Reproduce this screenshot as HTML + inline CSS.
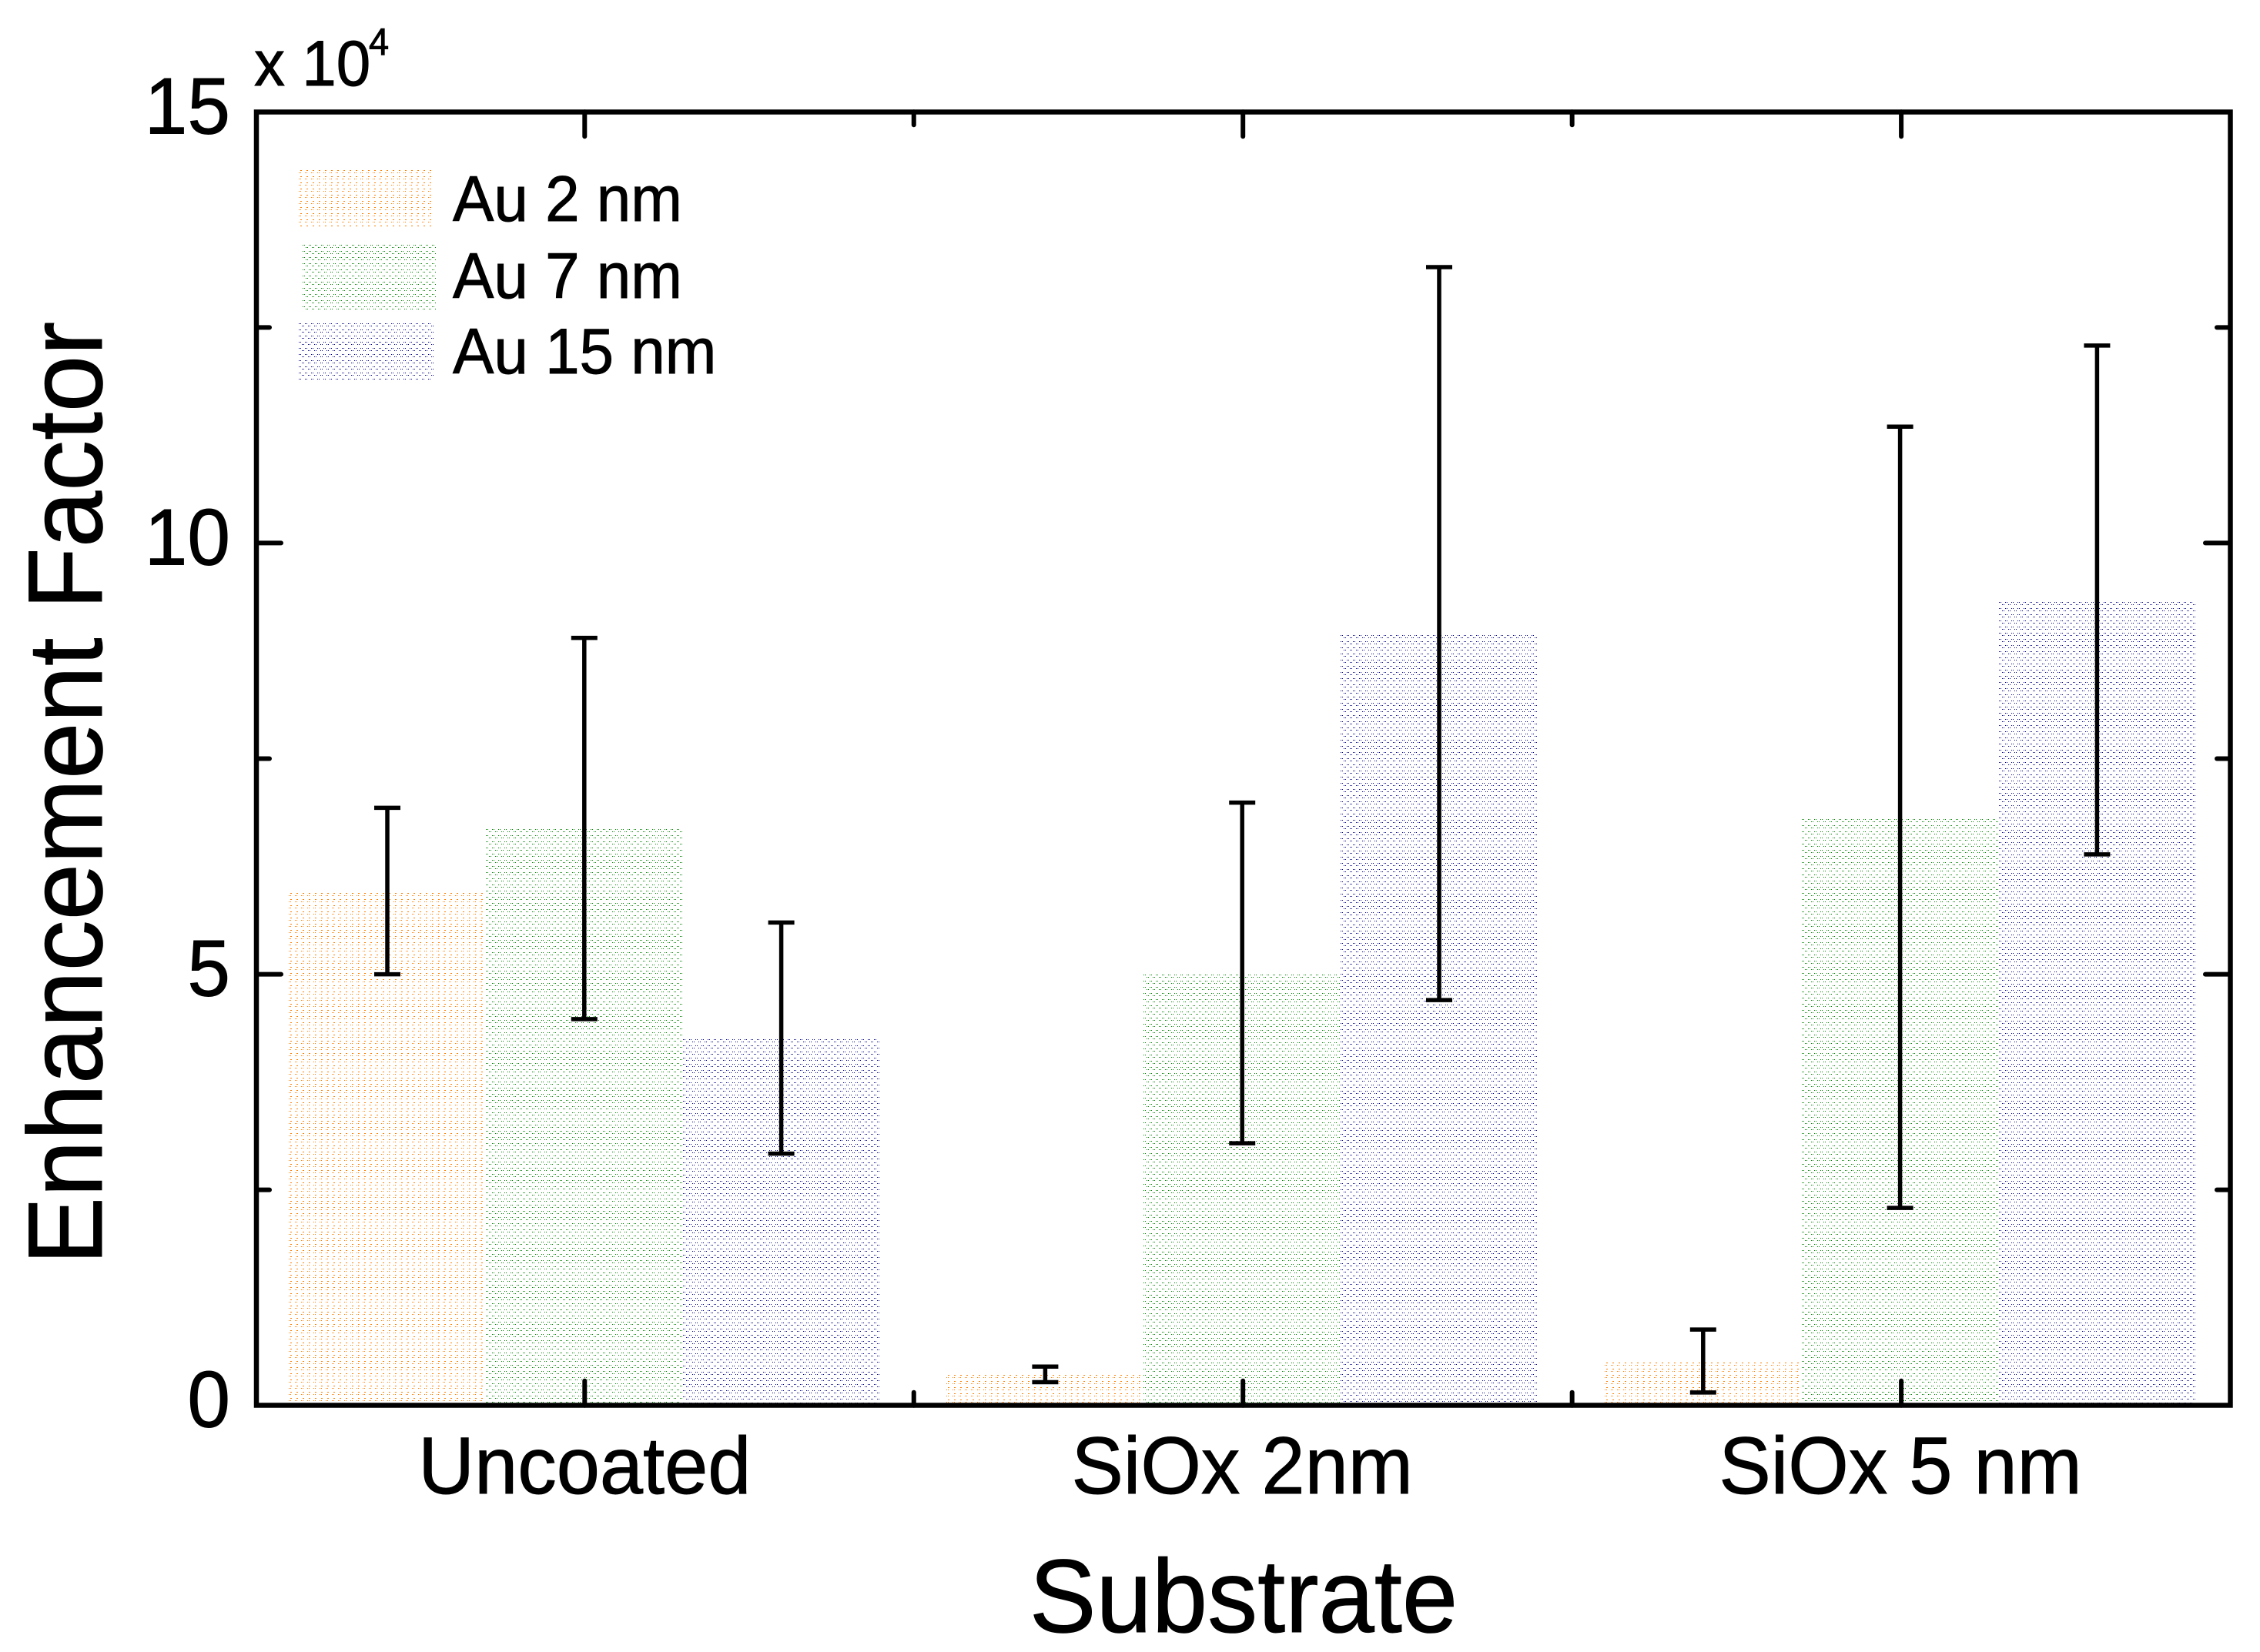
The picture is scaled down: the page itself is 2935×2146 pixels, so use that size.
<!DOCTYPE html>
<html lang="en">
<head>
<meta charset="utf-8">
<title>Enhancement Factor by Substrate</title>
<style>
html,body{margin:0;padding:0;background:#fff;width:2935px;height:2146px;overflow:hidden}
svg{display:block}
text{font-family:"Liberation Sans",Arial,sans-serif;fill:#000;stroke:#000;stroke-width:0.9px}
</style>
</head>
<body>
<svg id="chart" xmlns="http://www.w3.org/2000/svg" width="2935" height="2146" viewBox="0 0 2935 2146">
  <defs id="defs">
    <pattern id="fill-orange" patternUnits="userSpaceOnUse" width="8" height="8" shape-rendering="crispEdges">
      <rect x="2" y="0" width="2" height="1" fill="#ff8000"/>
      <rect x="0" y="3" width="1" height="1" fill="#ff8000"/>
      <rect x="2" y="3" width="1" height="1" fill="#ff8000"/>
    </pattern>
    <pattern id="fill-green" patternUnits="userSpaceOnUse" width="8" height="8" shape-rendering="crispEdges">
      <rect x="0" y="0" width="1" height="1" fill="#008000"/>
      <rect x="2" y="0" width="1" height="1" fill="#008000"/>
      <rect x="4" y="3" width="1" height="1" fill="#008000"/>
      <rect x="6" y="3" width="1" height="1" fill="#008000"/>
    </pattern>
    <pattern id="fill-blue" patternUnits="userSpaceOnUse" width="8" height="8" shape-rendering="crispEdges">
      <rect x="0" y="0" width="1" height="1" fill="#000080"/>
      <rect x="2" y="0" width="1" height="1" fill="#000080"/>
      <rect x="4" y="3" width="1" height="1" fill="#000080"/>
      <rect x="6" y="3" width="1" height="1" fill="#000080"/>
    </pattern>
  </defs>
  <g id="bars"></g>
  <g id="legend">
    <rect x="388" y="221" width="176" height="75" fill="#fff"/>
    <text transform="translate(588,287) scale(1,1.04)" font-size="80">Au 2 nm</text>
    <rect x="393" y="318" width="173" height="84" fill="#fff"/>
    <text transform="translate(588,387) scale(1,1.04)" font-size="80">Au 7 nm</text>
    <rect x="388" y="420" width="176" height="75" fill="#fff"/>
    <text transform="translate(588,485) scale(1,1.04)" font-size="80">Au 15 nm</text>
  </g>
  <g id="errors"></g>
  <g id="ticks"></g>
  <rect x="333" y="145.5" width="2563.5" height="1680" fill="none" stroke="#000" stroke-width="6.5"/>
  <g id="labels"></g>
  <text transform="translate(330,111) scale(1,1.04)" font-size="80">x 10</text>
  <text transform="translate(479,71) scale(1,1.04)" font-size="47">4</text>
  <text transform="translate(132,1643) rotate(-90) scale(1,1.04)" font-size="132">Enhancement Factor</text>
  <text transform="translate(1615,2120) scale(1,1.04)" font-size="130" text-anchor="middle">Substrate</text>
</svg>
<script>
const categories = ['Uncoated', 'SiOx 2nm', 'SiOx 5 nm'];
const seriesNames = ['au-2-nm', 'au-7-nm', 'au-15-nm'];
const au2Values = [5.94, 0.35, 0.5];
const au7Values = [6.68, 5.0, 6.8];
const au15Values = [4.25, 8.93, 9.32];
const au2ErrHigh = [6.93, 0.45, 0.88];
const au2ErrLow = [5.0, 0.27, 0.15];
const au7ErrHigh = [8.9, 6.99, 11.35];
const au7ErrLow = [4.48, 3.04, 2.29];
const au15ErrHigh = [5.6, 13.2, 12.29];
const au15ErrLow = [2.92, 4.7, 6.39];
const yMajorTicks = [0, 5, 10, 15];
const yMinorTicks = [2.5, 7.5, 12.5];

const NS = 'http://www.w3.org/2000/svg';
const barValues = [au2Values, au7Values, au15Values];
const errHigh = [au2ErrHigh, au7ErrHigh, au15ErrHigh];
const errLow = [au2ErrLow, au7ErrLow, au15ErrLow];
const fillBases = ['fill-orange', 'fill-green', 'fill-blue'];

function yScale(v) { return 1825.7 - v * (1680.4 / 15); }
function tickX(pos) { return 759.3 + pos * 854.9; }
function groupX(i) { return 758.8 + i * 854.4; }
const barWidth = 255.8;
function barLeft(i, s) { return Math.round(groupX(i) + (s - 1.5) * barWidth); }
function barCenter(i, s) { return groupX(i) + (s - 1) * barWidth; }

function make(tag, attrs, parent) {
  const e = document.createElementNS(NS, tag);
  for (const k in attrs) e.setAttribute(k, attrs[k]);
  parent.appendChild(e);
  return e;
}
let patternCount = 0;
function anchoredFill(baseId, x, y) {
  const clone = document.getElementById(baseId).cloneNode(true);
  patternCount += 1;
  clone.id = baseId + '-' + patternCount;
  clone.setAttribute('patternTransform', 'translate(' + x + ',' + y + ')');
  document.getElementById('defs').appendChild(clone);
  return 'url(#' + clone.id + ')';
}
const barsG = document.getElementById('bars');
const errorsG = document.getElementById('errors');
const ticksG = document.getElementById('ticks');
const labelsG = document.getElementById('labels');
const lineStyle = { stroke: '#000', 'stroke-width': 6, 'stroke-linecap': 'round' };

document.querySelectorAll('#legend rect').forEach(function (r, s) {
  r.setAttribute('fill', anchoredFill(fillBases[s], r.getAttribute('x'), r.getAttribute('y')));
});

categories.forEach(function (cat, i) {
  seriesNames.forEach(function (name, s) {
    const top = Math.round(yScale(barValues[s][i]));
    const left = barLeft(i, s);
    const right = barLeft(i, s + 1);
    const bar = make('rect', { x: left, y: top, width: right - left, height: Math.round(yScale(0)) - top, fill: anchoredFill(fillBases[s], left, top) }, barsG);
    
    

    const cx = barCenter(i, s);
    const hi = yScale(errHigh[s][i]);
    const lo = yScale(errLow[s][i]);
    const err = make('g', { stroke: '#000', 'stroke-width': 5.5 }, errorsG);
    
    
    make('line', { x1: cx, x2: cx, y1: hi, y2: lo }, err);
    make('line', { x1: cx - 17, x2: cx + 17, y1: hi, y2: hi }, err);
    make('line', { x1: cx - 17, x2: cx + 17, y1: lo, y2: lo }, err);
  });

  const xLabelX = tickX(i) - (i === 0 ? 0 : 1);
  const label = make('text', { transform: 'translate(' + xLabelX + ',1940) scale(1,1.04)', 'font-size': 101, 'text-anchor': 'middle' }, labelsG);
  label.textContent = cat;
  
  
});

function drawXTick(pos, len, name) {
  const x = tickX(pos);
  const bottom = make('line', Object.assign({ x1: x, x2: x, y1: 1825.7, y2: 1825.7 - len }, lineStyle), ticksG);
  
  
  const top = make('line', Object.assign({ x1: x, x2: x, y1: 145.3, y2: 145.3 + len }, lineStyle), ticksG);
  
  
}
categories.forEach(function (cat, i) {
  drawXTick(i, 32, 'major-' + (i + 1));
  if (i < categories.length - 1) drawXTick(i + 0.5, 17, 'minor-' + (i + 1));
});

function drawYTick(v, len, name) {
  const y = yScale(v);
  const left = make('line', Object.assign({ x1: 333, x2: 333 + len, y1: y, y2: y }, lineStyle), ticksG);
  
  
  const right = make('line', Object.assign({ x1: 2896, x2: 2896 - len, y1: y, y2: y }, lineStyle), ticksG);
  
  
}
yMajorTicks.forEach(function (v) {
  if (v > 0 && v < 15) drawYTick(v, 32, 'major-' + v);
  const label = make('text', { transform: 'translate(299,' + (yScale(v) + 28) + ') scale(1,1.04)', 'font-size': 100, 'text-anchor': 'end' }, labelsG);
  label.textContent = String(v);
  
  
});
yMinorTicks.forEach(function (v) {
  drawYTick(v, 17, 'minor-' + v);
});
</script>
</body>
</html>
